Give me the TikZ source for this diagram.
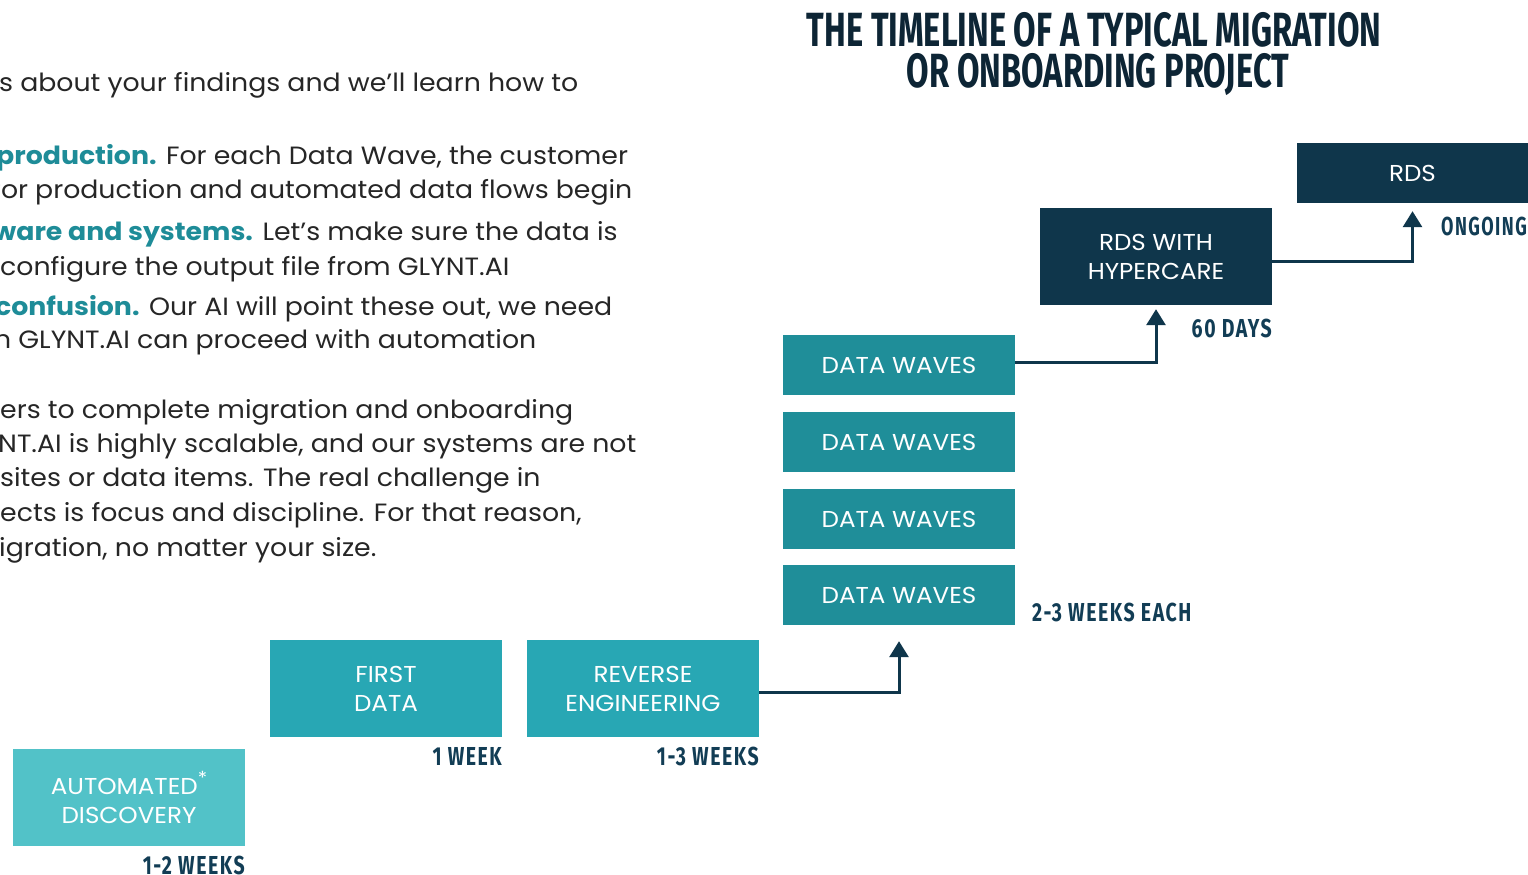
\documentclass[tikz,border=0pt]{standalone}
\usepackage{fontspec}
\setmainfont{Poppins}
\newfontfamily\bodyfont{Poppins}[FakeStretch=1.07]
\newfontfamily\condfont{Fira Sans}[FakeStretch=0.68]
\newfontfamily\labfont{Fira Sans}[FakeStretch=0.75, LetterSpace=6]
\usetikzlibrary{arrows.meta}
\definecolor{navy}{HTML}{0F364B}
\definecolor{titlenavy}{HTML}{0D2535}
\definecolor{labnavy}{HTML}{123D55}
\definecolor{wave}{HTML}{1F8E99}
\definecolor{midteal}{HTML}{28A7B4}
\definecolor{lightteal}{HTML}{52C2C8}
\definecolor{hlteal}{HTML}{1E8C98}
\definecolor{bodytext}{HTML}{262626}
\newcommand{\hl}[1]{{\color{hlteal}\fontseries{b}\selectfont #1}}
\tikzset{
  boxnode/.style={minimum width=232pt, inner sep=0pt, text=white, align=center,
    font=\bodyfont\fontsize{23}{29}\selectfont},
  navybox/.style={boxnode, fill=navy},
  wavebox/.style={boxnode, fill=wave, minimum height=60pt},
  midbox/.style={boxnode, fill=midteal, minimum height=97pt},
  lightbox/.style={boxnode, fill=lightteal, minimum height=97pt},
  durlabel/.style={inner sep=0pt, text=labnavy, font=\labfont\bfseries\fontsize{26}{26}\selectfont},
  bodyline/.style={inner sep=0pt, anchor=base west, text=bodytext, font=\bodyfont\fontsize{25}{30}\selectfont},
  titleline/.style={inner sep=0pt, anchor=base, text=titlenavy, font=\condfont\bfseries\fontsize{48}{48}\selectfont},
  arr/.style={draw=navy, line width=3pt, -{Triangle[width=19pt,length=16pt]}}
}
\begin{document}
\begin{tikzpicture}[x=1pt,y=-1pt]
\useasboundingbox (0,0) rectangle (1528,875);
\fill[white] (0,0) rectangle (1528,875);

% title
\node[titleline] (t1) at (1094,47) {THE TIMELINE OF A TYPICAL MIGRATION};
\node[titleline] (t2) at (1098,88) {OR ONBOARDING PROJECT};

% body text
\node[bodyline] (b1) at (-1,91) {s about your findings and we’ll learn how to};
\node[bodyline] (b2) at (-4,164) {\hl{production.} For each Data Wave, the customer};
\node[bodyline] (b3) at (-8,198) {for production and automated data flows begin};
\node[bodyline] (b4) at (-7,240) {\hl{ware and systems.} Let’s make sure the data is};
\node[bodyline] (b5) at (0,275) {configure the output file from GLYNT.AI};
\node[bodyline] (b6) at (-5,315) {\hl{confusion.} Our AI will point these out, we need};
\node[bodyline] (b7) at (-6,348) {n GLYNT.AI can proceed with automation};
\node[bodyline] (b8) at (0,418) {ers to complete migration and onboarding};
\node[bodyline] (b9) at (-2,452) {NT.AI is highly scalable, and our systems are not};
\node[bodyline] (b10) at (0,486) {sites or data items. The real challenge in};
\node[bodyline] (b11) at (0,521) {ects is focus and discipline. For that reason,};
\node[bodyline] (b12) at (-1,556) {igration, no matter your size.};

% boxes
\node[navybox, minimum height=60pt, minimum width=231pt] (rds) at (1412.5,173) {RDS};
\node[navybox, minimum height=97pt] (hyp) at (1156,256.5) {RDS WITH\\HYPERCARE};
\node[wavebox] (dw1) at (899,365) {DATA WAVES};
\node[wavebox] (dw2) at (899,442) {DATA WAVES};
\node[wavebox] (dw3) at (899,519) {DATA WAVES};
\node[wavebox] (dw4) at (899,595) {DATA WAVES};
\node[midbox] (first) at (386,688.5) {FIRST\\DATA};
\node[midbox] (rev) at (643,688.5) {REVERSE\\ENGINEERING};
\node[lightbox] (auto) at (129,797.5) {AUTOMATED\raisebox{0.45em}{\fontsize{18}{18}\selectfont *}\\DISCOVERY};

% duration labels
\node[durlabel, anchor=base east, xscale=0.92] (lrds) at (1527,235) {ONGOING};
\node[durlabel, anchor=base east] (lhyp) at (1272,337) {60 DAYS};
\node[durlabel, anchor=base west] (ldw) at (1032,621) {2-3 WEEKS EACH};
\node[durlabel, anchor=base east] (lfirst) at (502,765) {1 WEEK};
\node[durlabel, anchor=base east] (lrev) at (759,765) {1-3 WEEKS};
\node[durlabel, anchor=base east] (lauto) at (245,874) {1-2 WEEKS};

% connectors
\draw[arr] ([yshift=-4pt]rev.east) -| ([yshift=-16pt]dw4.south);
\draw[arr] ([yshift=3pt]dw1.east) -| ([yshift=-4pt]hyp.south);
\draw[arr] ([yshift=-4.5pt]hyp.east) -| ([yshift=-8pt]rds.south);
\end{tikzpicture}
\end{document}
